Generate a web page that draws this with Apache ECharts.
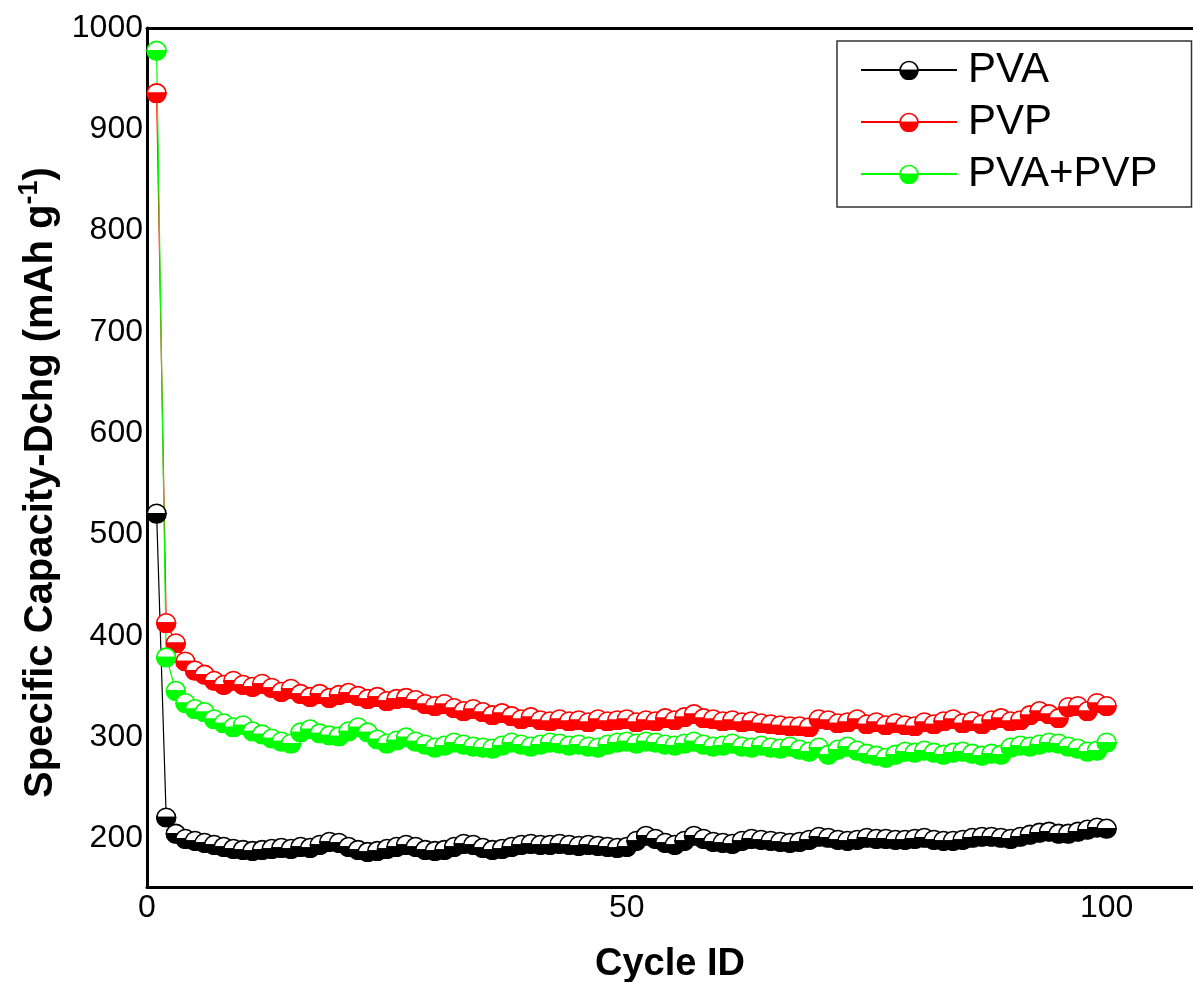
<!DOCTYPE html>
<html>
<head>
<meta charset="utf-8">
<title>Specific Capacity-Dchg</title>
<script src="https://cdn.jsdelivr.net/npm/echarts@6/dist/echarts.min.js"></script>
<style>
  html, body { margin: 0; padding: 0; background: #fff; }
  #main { width: 1193px; height: 982px; }
</style>
</head>
<body>
<div id="main"></div>
<script>
// 各循环的放电比容量 (mAh g-1)
var pva = [
  521, 221, 205, 200, 198, 196, 194, 192, 190, 189,
  188, 189, 190, 191, 190, 192, 191, 194, 197, 196,
  192, 189, 187, 188, 190, 192, 194, 192, 189, 188,
  189, 192, 195, 194, 191, 189, 190, 192, 194, 195,
  194, 194, 195, 194, 193, 194, 193, 192, 191, 192,
  198, 203, 200, 196, 194, 198, 203, 200, 197, 196,
  195, 198, 200, 199, 198, 197, 196, 197, 199, 202,
  201, 199, 198, 199, 201, 200, 200, 199, 199, 200,
  201, 199, 198, 198, 199, 201, 202, 202, 201, 200,
  202, 204, 206, 207, 205, 205, 207, 209, 211, 210
];
var pvp = [
  936, 413, 393, 375, 366, 362, 356, 352, 356, 352,
  350, 353, 349, 345, 348, 343, 340, 343, 339, 342,
  344, 341, 338, 340, 336, 338, 339, 337, 333, 331,
  333, 329, 326, 328, 325, 322, 324, 321, 318, 320,
  317, 316, 318, 316, 317, 315, 318, 316, 317, 318,
  315, 317, 316, 319, 317, 320, 323, 319, 318, 316,
  317, 315, 316, 314, 313, 312, 311, 311, 310, 318,
  317, 314, 315, 318, 313, 315, 312, 314, 312, 311,
  315, 313, 316, 318, 314, 316, 313, 317, 319, 316,
  317, 322, 326, 323, 319, 330, 331, 326, 334, 331
];
var pvaPvp = [
  978, 379, 346, 334, 328, 325, 318, 314, 310, 312,
  306, 303, 299, 296, 294, 305, 308, 304, 302, 301,
  306, 310, 305, 298, 294, 297, 300, 296, 293, 290,
  292, 295, 293, 291, 290, 289, 292, 295, 293, 291,
  293, 295, 294, 292, 293, 291, 290, 293, 295, 296,
  294, 296, 295, 293, 292, 294, 296, 293, 291, 292,
  294, 291, 290, 292, 290, 289, 291, 288, 286, 290,
  283, 288, 291, 287, 284, 282, 280, 283, 286, 285,
  287, 285, 283, 285, 286, 284, 282, 284, 283, 290,
  292, 291, 293, 295, 294, 291, 289, 286, 287, 295
];
var seriesNames = ["PVA", "PVP", "PVA+PVP"];
var seriesColors = ["#000000", "#ff0000", "#00ff00"];
var yTicks = [200, 300, 400, 500, 600, 700, 800, 900, 1000];

var FONT = "'Liberation Sans', Arial, sans-serif";

// 上半白、下半实心的圆形标记
function halfMarker(color) {
  var svg =
    "<svg xmlns='http://www.w3.org/2000/svg' width='40' height='40' viewBox='0 0 40 40'>" +
    "<path d='M2,21 A18,18 0 0,1 38,21 Z' fill='#ffffff' stroke='" + color + "' stroke-width='3'/>" +
    "<path d='M2,21 A18,18 0 0,0 38,21 Z' fill='" + color + "' stroke='" + color + "' stroke-width='3'/>" +
    "</svg>";
  return "image://data:image/svg+xml;charset=utf-8," + encodeURIComponent(svg);
}

// 循环号从 1 开始
function toPairs(values) {
  return values.map(function (v, i) {
    return [i + 1, v];
  });
}

var allValues = [pva, pvp, pvaPvp];

var myChart = echarts.init(document.getElementById("main"));

myChart.setOption({
  animation: false,
  grid: {
    left: 147,
    top: 28,
    right: 0,
    bottom: 95,
    outerBoundsMode: "none", // 不让坐标轴名字挤压绘图区
  },
  legend: {
    orient: "vertical",
    left: 837,
    top: 41,
    data: seriesNames,
    itemWidth: 96,
    itemHeight: 25,
    itemGap: 8,
    padding: [7, 34, 11, 23],
    borderColor: "#333",
    borderWidth: 1.5,
    textStyle: {
      fontFamily: FONT,
      fontSize: 42,
      lineHeight: 44,
      color: "#000",
      padding: [0, 0, 0, 6],
    },
  },
  xAxis: [
    {
      type: "value",
      min: 0,
      max: 109,
      interval: 50,
      name: "Cycle ID",
      nameLocation: "middle",
      nameGap: 59,
      nameTextStyle: {
        fontFamily: FONT,
        fontSize: 38,
        fontWeight: "bold",
        color: "#000",
      },
      axisLine: { lineStyle: { color: "#000", width: 3 } },
      axisTick: { show: false },
      splitLine: { show: false },
      axisLabel: {
        fontFamily: FONT,
        fontSize: 32,
        color: "#000",
        margin: 5,
        showMaxLabel: false,
      },
    },
    {
      // 顶部边框
      type: "value",
      position: "top",
      min: 0,
      max: 109,
      axisLine: { lineStyle: { color: "#000", width: 3 } },
      axisTick: { show: false },
      axisLabel: { show: false },
      splitLine: { show: false },
    },
  ],
  yAxis: {
    type: "value",
    min: 152,
    max: 1000,
    name: "Specific Capacity-Dchg (mAh g{sup|-1})",
    nameLocation: "middle",
    nameGap: 63,
    nameTextStyle: {
      fontFamily: FONT,
      fontSize: 40,
      fontWeight: "bold",
      color: "#000",
      padding: [0, 50, 0, 0],
      rich: {
        sup: {
          fontFamily: FONT,
          fontSize: 27,
          fontWeight: "bold",
          color: "#000",
          verticalAlign: "top",
          padding: [0, 0, 22, 0],
        },
      },
    },
    axisLine: { show: true, lineStyle: { color: "#000", width: 3 } },
    axisTick: { show: false },
    splitLine: { show: false },
    axisLabel: {
      fontFamily: FONT,
      fontSize: 32,
      color: "#000",
      margin: 4,
      customValues: yTicks,
      formatter: function (v) {
        return String(v);
      },
    },
  },
  series: seriesNames.map(function (name, k) {
    return {
      name: name,
      type: "line",
      data: toPairs(allValues[k]),
      symbol: halfMarker(seriesColors[k]),
      symbolSize: 21,
      showAllSymbol: true,
      color: seriesColors[k],
      lineStyle: { color: seriesColors[k], width: 1.2 },
      itemStyle: { color: seriesColors[k] },
      emphasis: { disabled: true },
    };
  }),
});
</script>
</body>
</html>
